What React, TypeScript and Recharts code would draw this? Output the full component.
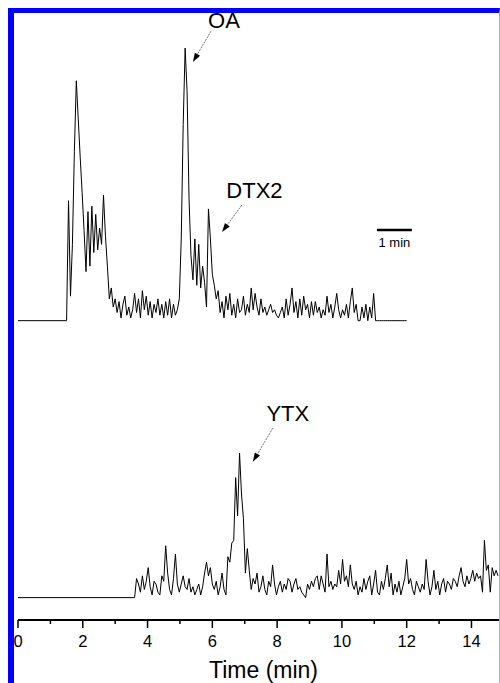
import { Line, LineChart, ReferenceDot, ReferenceLine, XAxis, YAxis } from 'recharts'

const FONT = '"Liberation Sans", Arial, sans-serif'

// both traces are sampled every 0.06 min once the signal starts
const SAMPLE_STEP = 0.06

// upper trace (OA, DTX2), relative response, OA = 100
const upperStart = 1.5
const upperSignal = [
  0, 44, 9, 28, 62, 88, 74, 60, 47, 33, 18, 40, 20, 42, 25, 39, 26, 34, 28, 46, 31, 20, 8,
  12, 5, 8, 3, 7, 1, 6, 9, 2, 5, 1, 4, 10, 3, 8, 1, 11, 4, 9, 2, 7, 1, 6, 3, 8, 2, 6, 1, 7, 2, 8, 1, 6, 2,
  4, 8, 30, 72, 100, 84, 45, 24, 15, 30, 13, 28, 12,
  20, 14, 5, 41, 30, 17, 13, 8, 11, 3, 7, 1, 9, 4, 10, 2, 6, 1, 8, 3,
  4, 9, 2, 6, 3, 12, 4, 10, 5, 2, 8, 3, 5, 2, 4, 6, 3, 4, 2, 1, 3, 5, 1, 8, 2, 6, 12, 3, 7, 1,
  8, 2, 9, 4, 6, 1, 7, 2, 7, 3, 5, 1, 4, 2, 9, 3, 6, 1, 5, 10, 4, 1, 4, 2, 6, 1, 7, 12, 3, 6,
  0, 0, 5, 1, 6, 0, 5, 1, 10, 0, 0,
  0, 0, 0, 0, 0, 0, 0, 0, 0, 0, 0, 0, 0, 0, 0,
]

// lower trace (YTX), same response scale
const lowerStart = 3.6
const lowerSignal = [
  0, 7, 5, 2, 8, 3, 6, 11, 4, 1, 6, 5, 2, 1, 8, 6, 19, 9, 3, 1,
  7, 16, 5, 2, 5, 8, 4, 3, 7, 2, 4, 1, 3, 5, 1, 4, 9, 13, 8, 11,
  5, 3, 6, 1, 4, 9, 3, 1, 15, 13, 20, 21, 44, 30, 53, 38, 29, 9, 18, 10,
  3, 7, 5, 9, 2, 4, 8, 3, 1, 6, 4, 12, 5, 1, 4, 6, 2, 5, 3, 7,
  6, 2, 5, 7, 3, 4, 2, 1, 0, 5, 3, 6, 4, 7, 8, 3, 8, 5, 2, 16,
  4, 6, 3, 5, 4, 10, 5, 14, 6, 8, 4, 12, 5, 3, 6, 1, 4, 2, 7, 3,
  6, 8, 1, 5, 10, 2, 1, 6, 3, 7, 12, 4, 9, 1, 5, 2, 6, 1, 4, 7,
  14, 5, 7, 3, 1, 6, 4, 2, 5, 3, 14, 6, 1, 4, 10, 3, 6, 1, 5, 7,
  2, 6, 5, 3, 7, 6, 4, 8, 11, 6, 4, 8, 5, 7, 10, 6, 9, 7, 8, 2,
  21, 10, 12, 2, 11, 8, 10, 8,
]

const timeTicks = [0, 1, 2, 3, 4, 5, 6, 7, 8, 9, 10, 11, 12, 13, 14]

// the two traces are stacked, each on its own hidden y axis
const upperDomain = [-109.8, 114.7]
const lowerDomain = [-8.2, 216.2]

const toTrace = (start: number, values: number[]) => [
  { t: 0, v: 0 },
  ...values.map((v, i) => ({ t: +(start + i * SAMPLE_STEP).toFixed(2), v })),
]

const upperTrace = toTrace(upperStart, upperSignal)
const lowerTrace = toTrace(lowerStart, lowerSignal)

function TimeTick({ x, y, payload }: any) {
  const major = payload.value % 2 === 0
  return (
    <g>
      <line x1={x} y1={y} x2={x} y2={y + (major ? 8 : 4)} stroke="#000" strokeWidth={1.5} />
      {major && (
        <text x={x} y={y + 27} textAnchor="middle" fontSize={16.5} fill="#000" fontFamily={FONT}>
          {payload.value}
        </text>
      )}
    </g>
  )
}

function Arrow({ x1, y1, x2, y2 }: any) {
  const a = Math.atan2(y2 - y1, x2 - x1)
  const bx = x2 - 9 * Math.cos(a)
  const by = y2 - 9 * Math.sin(a)
  const px = -Math.sin(a) * 3
  const py = Math.cos(a) * 3
  return (
    <g>
      <line x1={x1} y1={y1} x2={bx} y2={by} stroke="#555" strokeWidth={0.8} strokeDasharray="2 1" />
      <polygon points={`${x2},${y2} ${bx + px},${by + py} ${bx - px},${by - py}`} fill="#000" />
    </g>
  )
}

const textShape = (text: string, size: number) => (p: any) => (
  <text x={p.cx} y={p.cy} textAnchor="middle" dominantBaseline="central" fontSize={size} fill="#000" fontFamily={FONT}>
    {text}
  </text>
)

export default function App() {
  return (
    <div style={{ position: 'relative', width: 500, height: 683 }}>
      <style>{'html, body { margin: 0; padding: 0; overflow: hidden; }'}</style>
      <div style={{ position: 'absolute', left: 8, top: 8 }}>
        <LineChart width={492} height={675} margin={{ top: 0, right: 1, bottom: 0, left: 10 }}>
          <XAxis
            type="number"
            dataKey="t"
            domain={[0, 14.85]}
            ticks={timeTicks}
            interval={0}
            allowDataOverflow
            height={63}
            tickLine={false}
            tickSize={0}
            tickMargin={0}
            axisLine={{ stroke: '#000', strokeWidth: 2 }}
            tick={<TimeTick />}
            label={{ value: 'Time (min)', position: 'insideBottom', offset: 5, dx: 5, fontSize: 23, fill: '#000', fontFamily: FONT }}
          />
          <YAxis yAxisId="top" type="number" hide domain={upperDomain} allowDataOverflow />
          <YAxis yAxisId="bottom" type="number" hide domain={lowerDomain} allowDataOverflow />

          <Line yAxisId="top" data={upperTrace} dataKey="v" type="linear" stroke="#000" strokeWidth={1} dot={false} isAnimationActive={false} />
          <Line yAxisId="bottom" data={lowerTrace} dataKey="v" type="linear" stroke="#000" strokeWidth={1} dot={false} isAnimationActive={false} />

          <ReferenceLine yAxisId="top" segment={[{ x: 5.96, y: 106.2 }, { x: 5.4, y: 94.9 }]} shape={<Arrow />} />
          <ReferenceLine yAxisId="top" segment={[{ x: 6.91, y: 42.4 }, { x: 6.3, y: 32.5 }]} shape={<Arrow />} />
          <ReferenceLine yAxisId="bottom" segment={[{ x: 7.87, y: 62.2 }, { x: 7.25, y: 49.8 }]} shape={<Arrow />} />
          <ReferenceLine yAxisId="top" segment={[{ x: 11.08, y: 33.3 }, { x: 12.16, y: 33.3 }]} stroke="#000" strokeWidth={2.5} />

          <ReferenceDot yAxisId="top" x={6.36} y={110.3} r={0} shape={textShape('OA', 22)} />
          <ReferenceDot yAxisId="top" x={7.3} y={47.9} r={0} shape={textShape('DTX2', 22)} />
          <ReferenceDot yAxisId="top" x={11.62} y={28.5} r={0} shape={textShape('1 min', 13)} />
          <ReferenceDot yAxisId="bottom" x={8.33} y={67.4} r={0} shape={textShape('YTX', 22)} />
        </LineChart>
      </div>
      <div
        style={{
          position: 'absolute',
          left: 8,
          top: 8,
          width: 492,
          height: 675,
          boxSizing: 'border-box',
          borderLeft: '6px solid #0000ff',
          borderTop: '5px solid #0000ff',
          borderRight: '1px solid #a8a8f0',
          pointerEvents: 'none',
        }}
      />
    </div>
  )
}
